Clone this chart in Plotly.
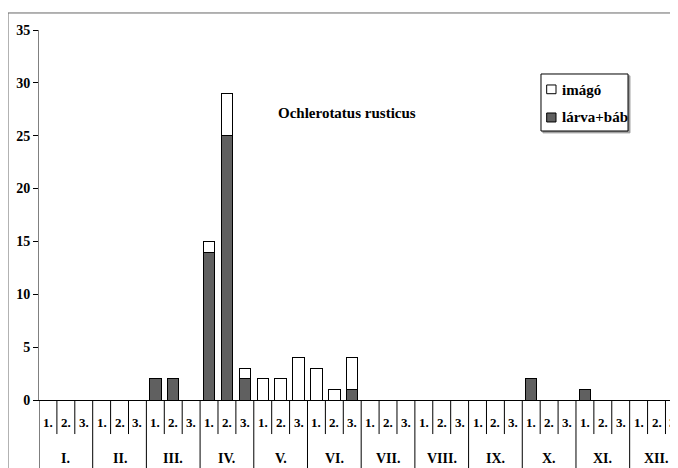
import plotly.graph_objects as go

months = ["I.", "II.", "III.", "IV.", "V.", "VI.", "VII.", "VIII.", "IX.", "X.", "XI.", "XII."]
decades = ["1.", "2.", "3."]
larva_bab = [0, 0, 0,  0, 0, 0,  2, 2, 0,  14, 25, 2,  0, 0, 0,  0, 0, 1,
             0, 0, 0,  0, 0, 0,  0, 0, 0,  2, 0, 0,  1, 0, 0,  0, 0, 0]
imago = [0, 0, 0,  0, 0, 0,  0, 0, 0,  1, 4, 1,  2, 2, 4,  3, 1, 3,
         0, 0, 0,  0, 0, 0,  0, 0, 0,  0, 0, 0,  0, 0, 0,  0, 0, 0]
series_names = ["imágó", "lárva+báb"]
series_colors = ["white", "#606060"]
title_text = "Ochlerotatus rusticus"
y_ticks = [0, 5, 10, 15, 20, 25, 30, 35]

n = len(larva_bab)
xs = list(range(n))
font_family = "Liberation Serif, Times New Roman, Times, serif"

fig = go.Figure()
fig.add_trace(go.Bar(x=xs, y=larva_bab, name=series_names[1], width=0.64, showlegend=False,
                     marker=dict(color=series_colors[1], line=dict(color="black", width=1))))
fig.add_trace(go.Bar(x=xs, y=imago, name=series_names[0], width=0.64, showlegend=False,
                     marker=dict(color=series_colors[0], line=dict(color="black", width=1))))

shapes = []
# separators under the axis
for b in range(n + 1):
    pos = b - 0.5
    y1 = -0.25 if b % 3 == 0 else -0.092
    shapes.append(dict(type="line", xref="x", yref="paper", x0=pos, x1=pos,
                       y0=0, y1=y1, line=dict(color="black", width=1)))
# outer border
shapes.append(dict(type="rect", xref="paper", yref="paper", x0=-0.0485, x1=1.2,
                   y0=-0.4, y1=1.046, line=dict(color="#666666", width=1)))

# manual legend box
lx0, lx1, ly0, ly1 = 0.7856, 0.9218, 0.727, 0.8811
shapes.append(dict(type="rect", xref="paper", yref="paper", x0=lx0 + 0.003, x1=lx1 + 0.003,
                   y0=ly0 - 0.005, y1=ly1 - 0.005, line=dict(color="#999999", width=1),
                   fillcolor="#999999", layer="above"))
shapes.append(dict(type="rect", xref="paper", yref="paper", x0=lx0, x1=lx1,
                   y0=ly0, y1=ly1, line=dict(color="black", width=1),
                   fillcolor="white", layer="above"))
sq_y = [(0.8278, 0.8514), (0.7514, 0.7757)]
txt_y = [0.8378, 0.7649]
annotations = []
for k in range(2):
    shapes.append(dict(type="rect", xref="paper", yref="paper", x0=0.7945, x1=0.8091,
                       y0=sq_y[k][0], y1=sq_y[k][1], line=dict(color="black", width=1),
                       fillcolor=series_colors[k], layer="above"))
    annotations.append(dict(x=0.8153, y=txt_y[k], xref="paper", yref="paper",
                            text="<b>%s</b>" % series_names[k], showarrow=False,
                            xanchor="left", yanchor="middle",
                            font=dict(family=font_family, size=15, color="black")))

for i in range(n):
    annotations.append(dict(x=i, y=-0.062, xref="x", yref="paper", text="<b>%s</b>" % decades[i % 3],
                            showarrow=False, font=dict(family=font_family, size=13, color="black"),
                            yanchor="middle"))
for m, name in enumerate(months):
    annotations.append(dict(x=3 * m + 1, y=-0.157, xref="x", yref="paper", text="<b>%s</b>" % name,
                            showarrow=False, font=dict(family=font_family, size=14, color="black"),
                            yanchor="middle"))
annotations.append(dict(x=0.482, y=0.803, xref="paper", yref="paper", text="<b>%s</b>" % title_text,
                        showarrow=False, font=dict(family=font_family, size=15, color="black")))

fig.update_layout(
    width=670, height=460,
    margin=dict(l=31, r=0, t=22, b=68),
    barmode="stack",
    plot_bgcolor="white", paper_bgcolor="white",
    font=dict(family=font_family, size=14, color="black"),
    showlegend=False,
    xaxis=dict(range=[-0.5, 35.2], showticklabels=False, ticks="", showgrid=False,
               zeroline=False, showline=True, linecolor="black", linewidth=1),
    yaxis=dict(range=[0, 35], tickvals=y_ticks, ticktext=["<b>%d</b>" % v for v in y_ticks],
               ticks="outside", ticklen=5, tickcolor="black", showgrid=False, zeroline=False,
               showline=True, linecolor="#808080", linewidth=1,
               tickfont=dict(family=font_family, size=14, color="black")),
    shapes=shapes,
    annotations=annotations,
)

fig.write_html("out.html")
